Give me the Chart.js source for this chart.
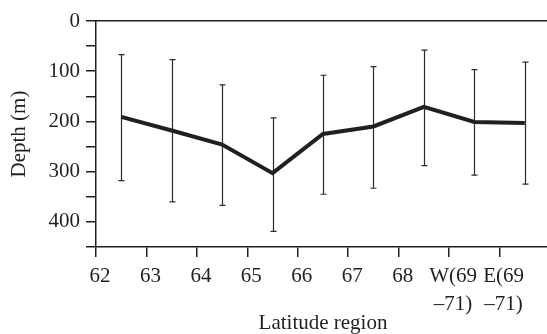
<!DOCTYPE html>
<html>
<head>
<meta charset="utf-8">
<script src="https://cdn.jsdelivr.net/npm/chart.js@4"></script>
<style>
  html, body { margin: 0; padding: 0; background: #fff; overflow: hidden; }
  #wrap { width: 547px; height: 334px; overflow: hidden; }
</style>
</head>
<body>
<div id="wrap"><canvas id="chart" width="556" height="334"></canvas></div>
<script>
// Latitude bands (labels sit on the band edges)
const tickLabels = ['62', '63', '64', '65', '66', '67', '68', ['W(69', '\u201371)'], ['E(69', '\u201371)']];
// Mean depth per band and the ends of its error bar (m)
const depthMean = [191, 218, 246, 303, 225, 210, 171, 201, 203];
const depthLow = [67, 77, 127, 193, 108, 91, 58, 97, 82];
const depthHigh = [318, 360, 367, 419, 345, 333, 288, 307, 325];

const INK = '#231f20';
const FONT = { family: '"Liberation Serif", "Times New Roman", serif', size: 21 };

// each point sits in the middle of its band
const points = depthMean.map((d, i) => ({ x: 62.5 + i, y: d }));

// vertical error bars with small caps
const errorBars = {
    id: 'errorBars',
    beforeDatasetsDraw(chart) {
        const { ctx, scales: { x, y } } = chart;
        ctx.save();
        ctx.strokeStyle = '#2b2b2b';
        ctx.lineWidth = 1.2;
        depthMean.forEach((d, i) => {
            const px = Math.round(x.getPixelForValue(62.5 + i)) + 0.5;
            const top = y.getPixelForValue(depthLow[i]);
            const bot = y.getPixelForValue(depthHigh[i]);
            ctx.beginPath();
            ctx.moveTo(px, top);
            ctx.lineTo(px, bot);
            ctx.moveTo(px - 3, top);
            ctx.lineTo(px + 3, top);
            ctx.moveTo(px - 3, bot);
            ctx.lineTo(px + 3, bot);
            ctx.stroke();
        });
        ctx.restore();
    }
};

new Chart(document.getElementById('chart'), {
    type: 'line',
    data: {
        datasets: [{
            data: points,
            borderColor: INK,
            borderWidth: 4,
            pointRadius: 0,
            tension: 0,
            fill: false
        }]
    },
    options: {
        responsive: false,
        animation: false,
        layout: { padding: { left: 0, top: 21, right: 6, bottom: 0 } },
        plugins: { legend: { display: false }, tooltip: { enabled: false } },
        scales: {
            x: {
                type: 'linear',
                min: 62,
                max: 71,
                afterFit: s => { s.height = 87; },
                grid: { drawOnChartArea: false, drawTicks: true, tickLength: 10, color: INK, lineWidth: 1.5 },
                border: { display: true, color: INK, width: 1.5 },
                ticks: {
                    stepSize: 1,
                    autoSkip: false,
                    maxRotation: 0,
                    padding: 6,
                    labelOffset: 4,
                    color: INK,
                    font: { ...FONT, lineHeight: 1.33 },
                    callback: v => tickLabels[v - 62] ?? ''
                },
                title: {
                    display: true,
                    text: 'Latitude region',
                    color: INK,
                    font: { ...FONT, lineHeight: 1 },
                    padding: { top: 0, bottom: 0.5 }
                }
            },
            x2: {
                type: 'linear',
                position: 'top',
                min: 62,
                max: 71,
                afterFit: s => { s.height = 0; },
                grid: { display: false, drawTicks: false },
                border: { display: true, color: INK, width: 1.5 },
                ticks: { display: false }
            },
            y: {
                reverse: true,
                min: 0,
                max: 450,
                afterFit: s => { s.width = 96; },
                grid: { drawOnChartArea: false, drawTicks: true, tickLength: 10, color: INK, lineWidth: 1.5 },
                border: { display: true, color: INK, width: 1.5 },
                ticks: {
                    stepSize: 50,
                    autoSkip: false,
                    padding: 6,
                    color: INK,
                    font: FONT,
                    callback: v => (v % 100 === 0 ? String(v) : '')
                },
                title: {
                    display: true,
                    text: 'Depth (m)',
                    color: INK,
                    font: { ...FONT, lineHeight: 1 },
                    padding: { top: 8.5, bottom: 0 }
                }
            }
        }
    },
    plugins: [errorBars]
});
</script>
</body>
</html>
